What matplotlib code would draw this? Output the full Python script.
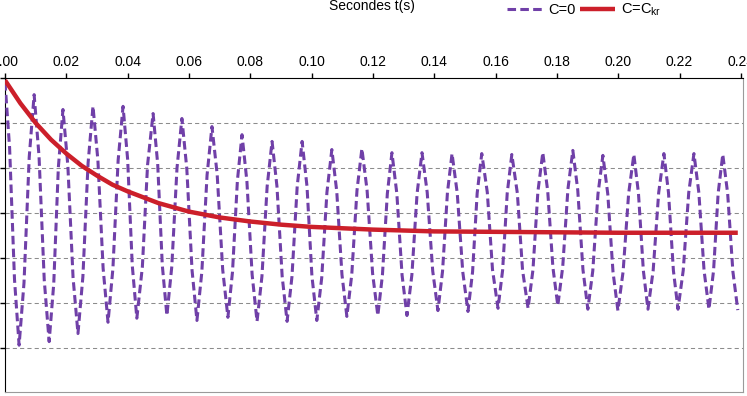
import matplotlib
matplotlib.use("Agg")
import matplotlib.pyplot as plt
import numpy as np

plt.rcParams['font.family'] = ['Liberation Sans', 'DejaVu Sans']
plt.rcParams['mathtext.default'] = 'regular'

# C=0 (undamped) response
t_c0 = [0.0000, 0.0015, 0.0031, 0.0046, 0.0062, 0.0079, 0.0095, 0.0111, 0.0128,
        0.0144, 0.0159, 0.0174, 0.0189, 0.0205, 0.0222, 0.0238, 0.0254, 0.0271,
        0.0287, 0.0303, 0.0320, 0.0336, 0.0352, 0.0369, 0.0385, 0.0400, 0.0415,
        0.0430, 0.0448, 0.0465, 0.0483, 0.0498, 0.0513, 0.0528, 0.0544, 0.0561,
        0.0577, 0.0593, 0.0610, 0.0626, 0.0642, 0.0659, 0.0675, 0.0692, 0.0710,
        0.0727, 0.0742, 0.0758, 0.0773, 0.0789, 0.0806, 0.0822, 0.0838, 0.0855,
        0.0871, 0.0887, 0.0904, 0.0920, 0.0936, 0.0953, 0.0969, 0.0985, 0.1001,
        0.1017, 0.1033, 0.1050, 0.1066, 0.1082, 0.1099, 0.1115, 0.1131, 0.1148,
        0.1164, 0.1181, 0.1199, 0.1216, 0.1231, 0.1247, 0.1262, 0.1278, 0.1295,
        0.1311, 0.1327, 0.1344, 0.1360, 0.1377, 0.1395, 0.1412, 0.1427, 0.1443,
        0.1458, 0.1475, 0.1493, 0.1510, 0.1525, 0.1540, 0.1555, 0.1573, 0.1590,
        0.1608, 0.1623, 0.1638, 0.1653, 0.1671, 0.1688, 0.1706, 0.1722, 0.1738,
        0.1754, 0.1770, 0.1787, 0.1803, 0.1819, 0.1836, 0.1852, 0.1868, 0.1885,
        0.1901, 0.1917, 0.1934, 0.1950, 0.1966, 0.1983, 0.1999, 0.2016, 0.2034,
        0.2051, 0.2066, 0.2082, 0.2097, 0.2114, 0.2132, 0.2149, 0.2164, 0.2180,
        0.2195, 0.2212, 0.2230, 0.2247, 0.2263, 0.2280, 0.2296, 0.2311, 0.2326,
        0.2341, 0.2357, 0.2374, 0.2390]
y_c0 = [0.09, 1.55, 4.48, 5.94, 4.55, 1.76, 0.37, 1.74, 4.49,
        5.86, 4.57, 1.99, 0.70, 1.95, 4.44, 5.68, 4.42, 1.89,
        0.63, 1.83, 4.23, 5.43, 4.23, 1.83, 0.63, 1.81, 4.16,
        5.34, 4.20, 1.93, 0.79, 1.91, 4.16, 5.28, 4.19, 2.00,
        0.90, 2.02, 4.27, 5.39, 4.31, 2.16, 1.08, 2.14, 4.26,
        5.32, 4.31, 2.28, 1.26, 2.30, 4.37, 5.41, 4.41, 2.41,
        1.41, 2.41, 4.41, 5.41, 4.41, 2.41, 1.41, 2.41, 4.40,
        5.39, 4.44, 2.54, 1.59, 2.52, 4.37, 5.30, 4.37, 2.50,
        1.57, 2.50, 4.35, 5.28, 4.38, 2.57, 1.66, 2.57, 4.38,
        5.28, 4.38, 2.57, 1.66, 2.54, 4.29, 5.17, 4.30, 2.55,
        1.68, 2.56, 4.31, 5.19, 4.31, 2.56, 1.68, 2.54, 4.26,
        5.12, 4.27, 2.56, 1.70, 2.56, 4.27, 5.12, 4.26, 2.53,
        1.66, 2.51, 4.21, 5.06, 4.20, 2.47, 1.61, 2.49, 4.26,
        5.14, 4.29, 2.58, 1.72, 2.58, 4.31, 5.17, 4.30, 2.57,
        1.70, 2.56, 4.28, 5.14, 4.28, 2.55, 1.68, 2.55, 4.28,
        5.14, 4.28, 2.55, 1.68, 2.55, 4.28, 5.14, 4.28, 2.56,
        1.70, 2.57, 4.30, 5.16]

# C=Ckr (critically damped) response
t_ckr = [0.000, 0.005, 0.010, 0.015, 0.020, 0.025, 0.030, 0.035, 0.040, 0.050,
         0.060, 0.070, 0.080, 0.090, 0.100, 0.120, 0.140, 0.160, 0.180, 0.200,
         0.220, 0.239]
y_ckr = [0.05, 0.56, 1.00, 1.37, 1.68, 1.95, 2.17, 2.37, 2.52, 2.78,
         2.97, 3.10, 3.19, 3.26, 3.31, 3.37, 3.41, 3.42, 3.43, 3.44,
         3.44, 3.44]

x_ticks = [0.00, 0.02, 0.04, 0.06, 0.08, 0.10, 0.12, 0.14, 0.16, 0.18, 0.20, 0.22, 0.24]
y_grid = [1, 2, 3, 4, 5, 6]

W, H = 747, 396
fig = plt.figure(figsize=(W / 100, H / 100), dpi=100)
ax = fig.add_axes([5 / W, 4 / H, 738 / W, 314 / H])

purple = '#7040A8'
red = '#CC1F2A'

l1, = ax.plot(t_c0, y_c0, color=purple, lw=2.2, dashes=(2.8, 1.4), label='C=0', zorder=3)
l2, = ax.plot(t_ckr, y_ckr, color=red, lw=3.2, solid_capstyle='butt',
              label='C=C$_{kr}$', zorder=4)

ax.set_xlim(0, 0.2407)
ax.set_ylim(6.98, 0)

ax.xaxis.tick_top()
ax.set_xticks(x_ticks)
ax.set_xticklabels(['%.2f' % v for v in x_ticks])
ax.set_yticks([0] + y_grid)
ax.set_yticklabels([])
ax.tick_params(axis='x', direction='out', length=3.6, width=1, labelsize=10, pad=3)
ax.tick_params(axis='y', direction='out', length=3.6, width=1)

for yv in y_grid:
    ax.axhline(yv, color='#8c8c8c', lw=0.75, ls=(0, (4, 3)), zorder=1)

ax.spines['top'].set_color('black')
ax.spines['left'].set_color('black')
ax.spines['right'].set_color('#9a9a9a')
ax.spines['bottom'].set_color('#9a9a9a')
ax.spines['right'].set_linewidth(0.8)
ax.spines['bottom'].set_linewidth(0.8)

fig.text(372 / W, 1 - 6 / H, 'Secondes t(s)', ha='center', va='center', fontsize=10)

fig.legend(handles=[l1, l2], loc='center', bbox_to_anchor=(584 / W, 1 - 10 / H),
           ncol=2, frameon=False, fontsize=10.5, handlelength=2.4,
           handletextpad=0.4, columnspacing=0.3, borderpad=0)

fig.savefig('out.png', dpi=100)
